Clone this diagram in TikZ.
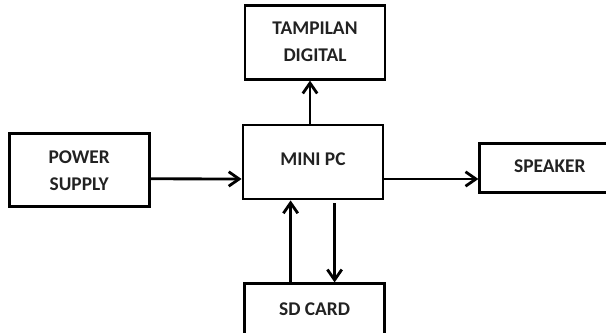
\documentclass[tikz,border=0pt]{standalone}
\usepackage{fontspec}
\setmainfont{Carlito}
\usepackage{xcolor}
\definecolor{blkline}{HTML}{000000}
\definecolor{blktext}{HTML}{222222}
\usepackage{tikz}
\usetikzlibrary{arrows.meta,positioning}
\tikzset{
  blkbox/.style={draw=blkline,line width=2pt,minimum width=35mm,minimum height=18.5mm,align=center,text=blktext,font=\bfseries\fontsize{13.8pt}{19.2pt}\selectfont,inner sep=0pt},
  blkflow/.style={-{Straight Barb[length=2.6mm,width=3.6mm,line width=2pt]},line width=2pt,draw=blkline},
}

\begin{document}
\begin{tikzpicture}
\useasboundingbox (-78.25mm,-42.75mm) rectangle (73.25mm,40.5mm);
\node[blkbox, text depth=1.2mm] (mini) {MINI PC};
\node[blkbox, above=10.75mm of mini, xshift=0.5mm] (tamp) {TAMPILAN\\DIGITAL};
\node[blkbox, left=22.75mm of mini, yshift=-2.1mm, minimum height=18.25mm] (power) {POWER\\SUPPLY};
\node[blkbox, right=23.5mm of mini, yshift=-1.6mm, minimum height=12.25mm, text depth=1.2mm] (spk) {SPEAKER};
\node[blkbox, below=20.5mm of mini, xshift=0.4mm, minimum height=12.75mm] (sd) {SD CARD};
\draw[blkflow] ([xshift=-0.75mm]mini.north) -- ([xshift=-0.75mm]mini.north |- tamp.south);
\draw[blkflow] ([yshift=-2.1mm]power.east) -- ([yshift=-4.25mm]mini.west);
\draw[blkflow] ([yshift=-4.25mm]mini.east) -- ([yshift=-4.25mm]mini.east -| spk.west);
\draw[blkflow] ([xshift=-5.6mm]mini.south |- sd.north) -- ([xshift=-5.6mm]mini.south);
\draw[blkflow] ([xshift=5.4mm,yshift=-0.75mm]mini.south) -- ([xshift=5.4mm]mini.south |- sd.north);
\end{tikzpicture}
\end{document}
